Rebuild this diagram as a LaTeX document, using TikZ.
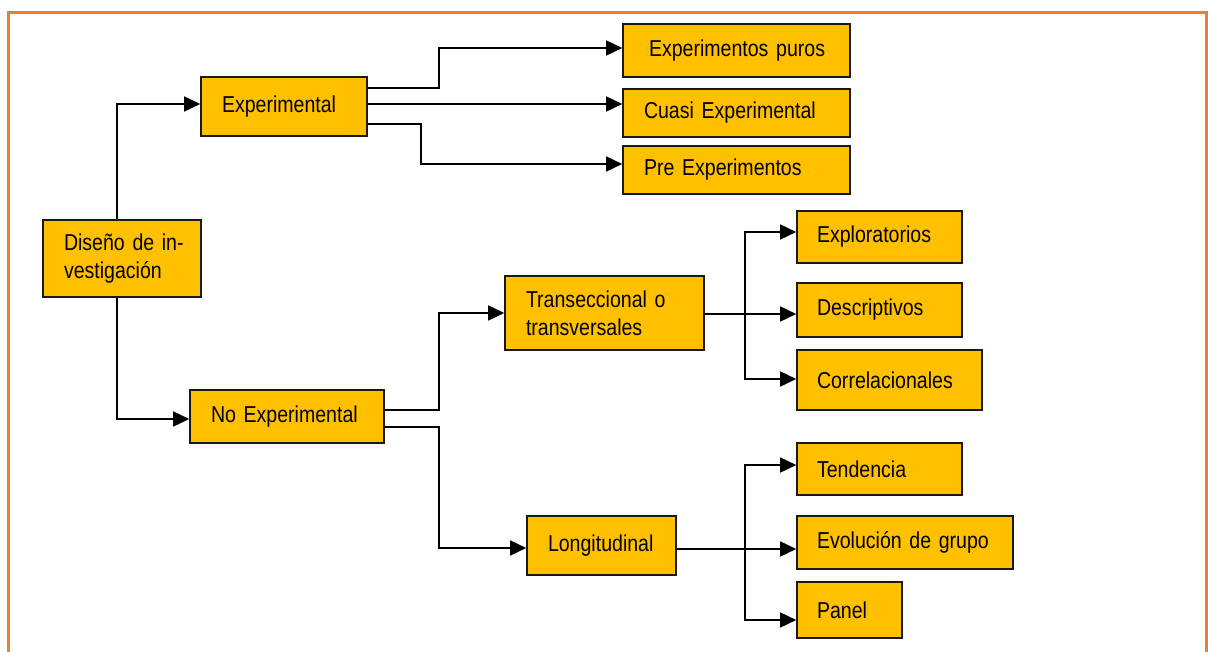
\documentclass[tikz,border=0pt]{standalone}
\usepackage{fontspec}
\newfontfamily\boxfont[FakeStretch=0.85]{Liberation Sans}
\usetikzlibrary{arrows.meta,calc}
\definecolor{boxgold}{HTML}{FFC000}
\definecolor{frameorange}{HTML}{ED7D31}
\begin{document}
\begin{tikzpicture}[x=1pt,y=-1pt,
  box/.style={draw=black!90, fill=boxgold, line width=1.6pt, align=left,
    inner xsep=21pt, inner ysep=0pt,
    font={\boxfont\fontsize{23}{28}\selectfont}},
  conn/.style={line width=1.6pt, -{Triangle[length=16pt,width=15pt]}}]

% page and outer frame
\fill[white] (0,0) rectangle (1208,652);
\useasboundingbox (0,0) rectangle (1208,652);
\draw[frameorange, line width=3pt] (8.5,652) -- (8.5,12.5) -- (1206.5,12.5) -- (1206.5,652);

% boxes
\node[box, text width=116pt, minimum height=77pt] (dis) at (122,258.5) {\mbox{Diseño de in-}\\vestigación};
\node[box, text width=124pt, minimum height=59pt] (exp) at (284,106.5) {Experimental};
\node[box, inner xsep=26pt, text width=175pt, minimum height=53pt] (pur) at (736.5,50.5) {\mbox{Experimentos puros}};
\node[box, text width=185pt, minimum height=48pt] (cua) at (736.5,113) {\mbox{Cuasi Experimental}};
\node[box, text width=185pt, minimum height=48pt] (pre) at (736.5,170) {\mbox{Pre Experimentos}};
\node[box, text width=152pt, minimum height=53pt] (nox) at (287,416.5) {\mbox{No Experimental}};
\node[box, text width=157pt, minimum height=74pt] (tra) at (604.5,313) {\mbox{Transeccional o}\\transversales};
\node[box, text width=107pt, minimum height=59pt] (lon) at (601.5,545.5) {Longitudinal};
\node[box, inner xsep=20pt, text width=125pt, minimum height=52pt] (exl) at (879.5,237) {Exploratorios};
\node[box, inner xsep=20pt, text width=125pt, minimum height=54pt] (des) at (879.5,310) {Descriptivos};
\node[box, inner xsep=20pt, text width=145pt, minimum height=60pt] (cor) at (889.5,380) {Correlacionales};
\node[box, inner xsep=20pt, text width=125pt, minimum height=52pt] (ten) at (879.5,469) {Tendencia};
\node[box, inner xsep=20pt, text width=176pt, minimum height=53pt] (evo) at (905,542.5) {\mbox{Evolución de grupo}};
\node[box, inner xsep=20pt, text width=65pt, minimum height=56pt] (pan) at (849.5,610) {Panel};

% connectors from the root
\draw[conn] ([xshift=-5pt]dis.north) |- ([yshift=2.5pt]exp.west);
\draw[conn] ([xshift=-5pt]dis.south) |- ([yshift=-2.5pt]nox.west);

% experimental branch
\draw[conn] ([yshift=18.5pt]exp.east) -- ++(71,0) |- ([yshift=2.5pt]pur.west);
\coordinate (e2) at ([yshift=2.5pt]exp.east);
\draw[conn] (e2) -- (e2 -| cua.west);
\draw[conn] ([yshift=-17.5pt]exp.east) -- ++(53,0) |- ([yshift=6pt]pre.west);

% non-experimental branch
\draw[conn] ([yshift=6.5pt]nox.east) -- ++(54,0) |- (tra.west);
\draw[conn] ([yshift=-10.5pt]nox.east) -- ++(54,0) |- ([yshift=-2.5pt]lon.west);

% cross-sectional designs
\coordinate (t0) at ([yshift=-1pt]tra.east);
\draw[conn] (t0) -- (t0 -| des.west);
\draw[conn] (t0) -- ++(40,0) |- ([yshift=5pt]exl.west);
\draw[conn] (t0) -- ++(40,0) |- ([yshift=1pt]cor.west);

% longitudinal designs
\coordinate (l0) at ([yshift=-3.5pt]lon.east);
\draw[conn] (l0) -- (l0 -| evo.west);
\draw[conn] (l0) -- ++(68,0) |- ([yshift=4pt]ten.west);
\draw[conn] (l0) -- ++(68,0) |- ([yshift=-10pt]pan.west);
\end{tikzpicture}
\end{document}
